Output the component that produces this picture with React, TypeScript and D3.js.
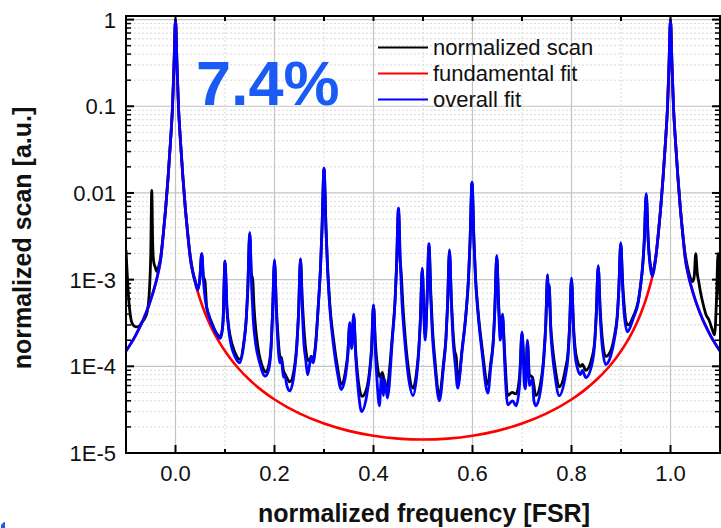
import React from "react";
import * as d3 from "d3";

// ---------- data ----------
type P = [number, number];

const xTickValues = [0.0, 0.2, 0.4, 0.6, 0.8, 1.0];
const xTickLabels = ["0.0", "0.2", "0.4", "0.6", "0.8", "1.0"];
const xMinorValues = [-0.1, 0.1, 0.3, 0.5, 0.7, 0.9, 1.1];
const yTickValues = [1e-5, 1e-4, 1e-3, 1e-2, 1e-1, 1];
const yTickLabels = ["1E-5", "1E-4", "1E-3", "0.01", "0.1", "1"];

const legendLabels = ["normalized scan", "fundamental fit", "overall fit"];
const seriesColors = ["#000000", "#ff0000", "#0000ff"];
const annotation = "7.4%";

// normalized scan (black)
const scanData: P[] = [
  [-0.1, 2.2e-3], [-0.098, 1.3e-3], [-0.095, 6.5e-4], [-0.091, 3.8e-4], [-0.086, 3.0e-4],
  [-0.08, 2.85e-4], [-0.074, 2.9e-4], [-0.068, 3.2e-4], [-0.062, 3.6e-4], [-0.057, 4.3e-4],
  [-0.053, 7.0e-4], [-0.05, 2.0e-3], [-0.048, 1.07e-2], [-0.046, 2.5e-3], [-0.044, 1.6e-3],
  [-0.041, 1.4e-3], [-0.038, 1.25e-3], [-0.035, 1.35e-3], [-0.03, 1.8e-3], [-0.025, 3.2e-3],
  [-0.02, 6.5e-3], [-0.015, 0.015], [-0.01, 0.04], [-0.006, 0.1], [-0.003, 0.3], [0, 1],
  [0.003, 0.3], [0.006, 0.1], [0.01, 0.04], [0.015, 0.015], [0.02, 6.5e-3], [0.025, 3.3e-3],
  [0.03, 1.85e-3], [0.035, 1.25e-3], [0.04, 9.6e-4], [0.045, 7.8e-4], [0.049, 1.0e-3],
  [0.053, 2.0e-3], [0.056, 1.1e-3], [0.0595, 9.6e-4], [0.063, 4.8e-4], [0.068, 3.8e-4],
  [0.073, 3.2e-4], [0.083, 2.4e-4], [0.09, 2.2e-4], [0.093, 2.4e-4], [0.096, 3.3e-4],
  [0.1, 1.6e-3], [0.1035, 4.9e-4], [0.107, 3.0e-4], [0.11, 2.3e-4], [0.12, 1.45e-4],
  [0.13, 1.2e-4], [0.138, 1.9e-4], [0.143, 3.6e-4], [0.146, 7.8e-4], [0.15, 3.4e-3],
  [0.153, 1.2e-3], [0.156, 1.0e-3], [0.1586, 4.9e-4], [0.163, 2.4e-4], [0.167, 1.6e-4],
  [0.177, 9.5e-5], [0.182, 8.6e-5], [0.188, 1.0e-4], [0.193, 1.7e-4], [0.196, 4.0e-4],
  [0.2, 1.6e-3], [0.204, 4.5e-4], [0.207, 2.3e-4], [0.211, 1.3e-4], [0.214, 1.25e-4],
  [0.218, 9.0e-5], [0.222, 8.0e-5], [0.226, 7.2e-5], [0.231, 6.6e-5], [0.24, 9.5e-5],
  [0.245, 1.8e-4], [0.2485, 4.0e-4], [0.2525, 1.7e-3], [0.256, 6.0e-4], [0.259, 3.0e-4],
  [0.263, 1.6e-4], [0.267, 1.2e-4], [0.271, 1.15e-4], [0.274, 1.3e-4], [0.278, 1.2e-4],
  [0.283, 1.8e-4], [0.288, 4.6e-4], [0.293, 1.4e-3], [0.296, 3.9e-3], [0.3, 0.019],
  [0.304, 4.0e-3], [0.307, 1.5e-3], [0.312, 5.0e-4], [0.32, 1.9e-4], [0.327, 1.0e-4],
  [0.335, 6.2e-5], [0.343, 8.5e-5], [0.348, 1.4e-4], [0.352, 3.0e-4], [0.356, 1.8e-4],
  [0.36, 3.8e-4], [0.364, 1.5e-4], [0.369, 7.0e-5], [0.377, 4.5e-5], [0.386, 5.5e-5],
  [0.393, 1.0e-4], [0.396, 1.6e-4], [0.4, 5.0e-4], [0.404, 1.8e-4], [0.408, 1.0e-4],
  [0.413, 7.5e-5], [0.418, 8.5e-5], [0.422, 6.5e-5], [0.426, 5.7e-5], [0.4385, 2.4e-4],
  [0.4435, 5.7e-4], [0.4465, 1.4e-3], [0.4505, 6.5e-3], [0.4535, 1.8e-3], [0.456, 1.2e-3],
  [0.459, 5.5e-4], [0.4625, 2.8e-4], [0.47, 1.0e-4], [0.48, 5.6e-5], [0.487, 8.5e-5],
  [0.4915, 1.6e-4], [0.4945, 3.3e-4], [0.4985, 1.3e-3], [0.502, 4.0e-4], [0.5045, 2.3e-4],
  [0.508, 5.5e-4], [0.512, 2.5e-3], [0.516, 6.5e-4], [0.519, 2.8e-4], [0.524, 1.2e-4],
  [0.533, 4.5e-5], [0.5415, 1.1e-4], [0.5465, 2.2e-4], [0.5495, 5.0e-4], [0.5535, 2.1e-3],
  [0.5575, 5.5e-4], [0.5605, 2.6e-4], [0.564, 1.5e-4], [0.567, 1.3e-4], [0.571, 6.5e-5],
  [0.579, 1.6e-4], [0.587, 4.2e-4], [0.592, 1.05e-3], [0.595, 2.7e-3], [0.599, 1.3e-2],
  [0.603, 2.8e-3], [0.606, 1.1e-3], [0.611, 4.5e-4], [0.619, 1.7e-4], [0.631, 6.2e-5],
  [0.637, 1.1e-4], [0.642, 2.0e-4], [0.645, 4.4e-4], [0.649, 1.85e-3], [0.653, 5.0e-4],
  [0.656, 3.0e-4], [0.658, 3.7e-4], [0.661, 3.5e-4], [0.665, 1.4e-4], [0.671, 4.6e-5],
  [0.68, 5.0e-5], [0.688, 4.8e-5], [0.695, 7.5e-5], [0.7, 2.4e-4], [0.705, 9.0e-5],
  [0.708, 8.0e-5], [0.711, 1.9e-4], [0.715, 8.0e-5], [0.721, 7.5e-5], [0.728, 4.6e-5],
  [0.7395, 7.5e-5], [0.744, 1.3e-4], [0.748, 3.1e-4], [0.7516, 1.1e-3], [0.753, 5.5e-4],
  [0.7548, 8.5e-4], [0.758, 3.0e-4], [0.762, 1.6e-4], [0.767, 9.5e-5], [0.775, 5.8e-5],
  [0.788, 9.5e-5], [0.793, 1.45e-4], [0.796, 2.8e-4], [0.8, 1.0e-3], [0.804, 3.0e-4],
  [0.807, 1.7e-4], [0.812, 1.15e-4], [0.818, 1.0e-4], [0.822, 1.05e-4], [0.829, 9.0e-5],
  [0.842, 1.3e-4], [0.847, 2.0e-4], [0.85, 4.0e-4], [0.854, 1.4e-3], [0.858, 4.5e-4],
  [0.861, 2.5e-4], [0.869, 1.3e-4], [0.879, 1.5e-4], [0.887, 2.3e-4], [0.8925, 3.9e-4],
  [0.8955, 7.6e-4], [0.8995, 2.6e-3], [0.9035, 9.0e-4], [0.9065, 5.0e-4], [0.91, 3.3e-4],
  [0.915, 3.0e-4], [0.925, 3.8e-4], [0.935, 5.7e-4], [0.939, 8.2e-4], [0.944, 1.5e-3],
  [0.947, 2.8e-3], [0.951, 9.5e-3], [0.955, 2.8e-3], [0.958, 1.7e-3], [0.963, 1.25e-3],
  [0.97, 1.8e-3], [0.975, 3.2e-3], [0.98, 6.5e-3], [0.985, 0.015], [0.99, 0.04],
  [0.994, 0.1], [0.997, 0.3], [1.0, 1], [1.003, 0.3], [1.006, 0.1], [1.01, 0.04],
  [1.015, 0.015], [1.02, 6.5e-3], [1.025, 3.3e-3], [1.03, 1.9e-3], [1.035, 1.35e-3],
  [1.04, 1.05e-3], [1.045, 9.5e-4], [1.048, 1.1e-3], [1.051, 2.0e-3], [1.054, 1.2e-3],
  [1.057, 9.5e-4], [1.06, 7.5e-4], [1.066, 5.2e-4], [1.072, 3.9e-4], [1.078, 3.4e-4],
  [1.084, 2.7e-4], [1.089, 2.3e-4], [1.093, 6.0e-4], [1.096, 2.0e-3], [1.099, 8.0e-4],
  [1.1, 6.0e-4],
];

// fundamental fit (red)
const fundamentalData: P[] = [
  [-0.1, 1.497e-4], [-0.09, 1.837e-4], [-0.08, 2.312e-4], [-0.07, 3.004e-4], [-0.06, 4.07e-4],
  [-0.05, 5.84e-4], [-0.04, 9.1e-4], [-0.035, 1.2e-3], [-0.03, 1.7e-3], [-0.025, 3.2e-3],
  [-0.02, 6.5e-3], [-0.015, 0.015], [-0.01, 0.04], [-0.006, 0.1], [-0.003, 0.3], [0, 1],
  [0.003, 0.3], [0.006, 0.1], [0.01, 0.04], [0.015, 0.015], [0.02, 6.5e-3], [0.025, 3.2e-3],
  [0.03, 1.7e-3], [0.035, 1.2e-3], [0.04, 9.1e-4], [0.05, 5.84e-4], [0.06, 4.07e-4],
  [0.07, 3.0e-4], [0.08, 2.31e-4], [0.09, 1.84e-4], [0.1, 1.5e-4], [0.11, 1.246e-4],
  [0.125, 9.76e-5], [0.15, 6.94e-5], [0.175, 5.24e-5], [0.2, 4.14e-5], [0.25, 2.86e-5],
  [0.3, 2.185e-5], [0.35, 1.8e-5], [0.4, 1.581e-5], [0.45, 1.466e-5], [0.5, 1.43e-5],
  [0.55, 1.466e-5], [0.6, 1.581e-5], [0.65, 1.8e-5], [0.7, 2.185e-5], [0.75, 2.86e-5],
  [0.8, 4.14e-5], [0.825, 5.24e-5], [0.85, 6.94e-5], [0.875, 9.76e-5], [0.89, 1.246e-4],
  [0.9, 1.5e-4], [0.91, 1.84e-4], [0.92, 2.31e-4], [0.93, 3.0e-4], [0.94, 4.07e-4],
  [0.95, 5.84e-4], [0.96, 9.1e-4], [0.965, 1.2e-3], [0.97, 1.7e-3], [0.975, 3.2e-3],
  [0.98, 6.5e-3], [0.985, 0.015], [0.99, 0.04], [0.994, 0.1], [0.997, 0.3], [1.0, 1],
  [1.003, 0.3], [1.006, 0.1], [1.01, 0.04], [1.015, 0.015], [1.02, 6.5e-3], [1.025, 3.2e-3],
  [1.03, 1.7e-3], [1.035, 1.2e-3], [1.04, 9.1e-4], [1.05, 5.84e-4], [1.06, 4.07e-4],
  [1.07, 3.004e-4], [1.08, 2.312e-4], [1.09, 1.837e-4], [1.1, 1.497e-4],
];

// overall fit (blue)
const overallData: P[] = [
  [-0.1, 1.5e-4], [-0.09, 1.84e-4], [-0.08, 2.31e-4], [-0.07, 3.0e-4], [-0.06, 4.07e-4],
  [-0.05, 5.84e-4], [-0.04, 9.1e-4], [-0.035, 1.2e-3], [-0.03, 1.7e-3], [-0.025, 3.2e-3],
  [-0.02, 6.5e-3], [-0.015, 0.015], [-0.01, 0.04], [-0.006, 0.1], [-0.003, 0.3], [0, 1],
  [0.003, 0.3], [0.006, 0.1], [0.01, 0.04], [0.015, 0.015], [0.02, 6.5e-3], [0.025, 3.2e-3],
  [0.03, 1.75e-3], [0.035, 1.2e-3], [0.04, 9.3e-4], [0.045, 7.6e-4], [0.049, 1.0e-3],
  [0.053, 2.0e-3], [0.057, 9.0e-4], [0.06, 6.0e-4], [0.065, 4.3e-4], [0.073, 3.1e-4],
  [0.082, 2.4e-4], [0.09, 2.1e-4], [0.093, 2.3e-4], [0.096, 3.2e-4], [0.1, 1.65e-3],
  [0.104, 4.9e-4], [0.107, 2.8e-4], [0.112, 1.8e-4], [0.12, 1.3e-4], [0.13, 1.1e-4],
  [0.138, 1.8e-4], [0.143, 3.5e-4], [0.146, 7.8e-4], [0.15, 3.5e-3], [0.154, 7.8e-4],
  [0.157, 3.5e-4], [0.162, 1.8e-4], [0.17, 1.1e-4], [0.181, 7.7e-5], [0.188, 9.0e-5],
  [0.193, 1.6e-4], [0.196, 4.0e-4], [0.2, 1.7e-3], [0.204, 4.0e-4], [0.207, 1.8e-4],
  [0.211, 1.1e-4], [0.214, 1.2e-4], [0.218, 7.5e-5], [0.221, 7.8e-5], [0.225, 6.0e-5],
  [0.231, 5.2e-5], [0.2405, 9.0e-5], [0.2455, 1.8e-4], [0.2485, 4.0e-4], [0.2525, 1.75e-3],
  [0.2565, 4.0e-4], [0.2595, 1.8e-4], [0.263, 1.2e-4], [0.267, 8.0e-5], [0.271, 1.05e-4],
  [0.274, 1.3e-4], [0.278, 1.1e-4], [0.283, 1.7e-4], [0.288, 4.5e-4], [0.293, 1.4e-3],
  [0.296, 3.9e-3], [0.3, 0.0193], [0.304, 3.9e-3], [0.307, 1.4e-3], [0.312, 4.5e-4],
  [0.32, 1.6e-4], [0.327, 8.5e-5], [0.335, 5.4e-5], [0.343, 7.5e-5], [0.348, 1.3e-4],
  [0.352, 3.2e-4], [0.356, 1.6e-4], [0.36, 4.0e-4], [0.364, 1.3e-4], [0.369, 5.5e-5],
  [0.376, 3.0e-5], [0.386, 4.5e-5], [0.393, 9.0e-5], [0.396, 1.5e-4], [0.4, 5.1e-4],
  [0.404, 1.4e-4], [0.407, 7.0e-5], [0.412, 3.5e-5], [0.416, 7.7e-5], [0.42, 4.6e-5],
  [0.423, 7.0e-5], [0.428, 4.3e-5], [0.4385, 2.2e-4], [0.4435, 5.5e-4], [0.4465, 1.4e-3],
  [0.4505, 6.7e-3], [0.4545, 1.4e-3], [0.4575, 5.5e-4], [0.4625, 2.2e-4], [0.47, 8.0e-5],
  [0.48, 4.6e-5], [0.487, 7.5e-5], [0.4915, 1.5e-4], [0.4945, 3.2e-4], [0.4985, 1.36e-3],
  [0.502, 3.5e-4], [0.5045, 2.0e-4], [0.508, 5.5e-4], [0.512, 2.6e-3], [0.516, 5.5e-4],
  [0.519, 2.3e-4], [0.524, 1.0e-4], [0.533, 4.0e-5], [0.5415, 1.0e-4], [0.5465, 2.1e-4],
  [0.5495, 4.9e-4], [0.5535, 2.2e-3], [0.5575, 4.9e-4], [0.5605, 2.1e-4], [0.5655, 1.0e-4],
  [0.57, 5.6e-5], [0.579, 1.5e-4], [0.587, 4.1e-4], [0.592, 1.05e-3], [0.595, 2.7e-3],
  [0.599, 1.33e-2], [0.603, 2.7e-3], [0.606, 1.05e-3], [0.611, 4.1e-4], [0.619, 1.5e-4],
  [0.631, 4.9e-5], [0.637, 1.0e-4], [0.642, 1.9e-4], [0.645, 4.3e-4], [0.649, 1.9e-3],
  [0.653, 4.3e-4], [0.656, 2.0e-4], [0.661, 4.0e-4], [0.665, 1.1e-4], [0.671, 3.6e-5],
  [0.681, 4.0e-5], [0.688, 3.5e-5], [0.695, 6.0e-5], [0.7, 2.5e-4], [0.705, 6.0e-5],
  [0.707, 5.5e-5], [0.711, 2.0e-4], [0.715, 6.0e-5], [0.721, 7.0e-5], [0.724, 4.0e-5],
  [0.728, 3.5e-5], [0.7395, 6.4e-5], [0.744, 1.2e-4], [0.748, 3.0e-4], [0.7516, 1.14e-3],
  [0.753, 5.0e-4], [0.7548, 8.8e-4], [0.758, 2.6e-4], [0.762, 1.3e-4], [0.767, 7.5e-5],
  [0.775, 4.6e-5], [0.788, 8.0e-5], [0.793, 1.3e-4], [0.796, 2.7e-4], [0.8, 1.05e-3],
  [0.804, 2.7e-4], [0.807, 1.4e-4], [0.812, 9.5e-5], [0.818, 8.0e-5], [0.822, 9.0e-5],
  [0.829, 7.4e-5], [0.842, 1.1e-4], [0.847, 1.9e-4], [0.85, 3.9e-4], [0.854, 1.45e-3],
  [0.858, 3.9e-4], [0.861, 2.0e-4], [0.869, 1.05e-4], [0.879, 1.3e-4], [0.887, 2.1e-4],
  [0.8925, 3.7e-4], [0.8955, 7.5e-4], [0.8995, 2.65e-3], [0.9035, 7.5e-4], [0.9065, 4.0e-4],
  [0.913, 2.5e-4], [0.925, 3.6e-4], [0.935, 5.5e-4], [0.939, 8.0e-4], [0.944, 1.5e-3],
  [0.947, 2.8e-3], [0.951, 9.8e-3], [0.955, 2.8e-3], [0.958, 1.6e-3], [0.963, 1.1e-3],
  [0.97, 1.75e-3], [0.975, 3.2e-3], [0.98, 6.5e-3], [0.985, 0.015], [0.99, 0.04],
  [0.994, 0.1], [0.997, 0.3], [1.0, 1], [1.003, 0.3], [1.006, 0.1], [1.01, 0.04],
  [1.015, 0.015], [1.02, 6.5e-3], [1.025, 3.2e-3], [1.03, 1.7e-3], [1.035, 1.2e-3],
  [1.04, 9.1e-4], [1.05, 5.84e-4], [1.06, 4.07e-4], [1.07, 3.0e-4], [1.08, 2.31e-4],
  [1.09, 1.84e-4], [1.1, 1.5e-4],
];

// ---------- layout ----------
const W = 721;
const H = 528;
const left = 126;
const right = 720;
const top = 16;
const bottom = 453;
const FONT = "'Liberation Sans', Arial, Helvetica, sans-serif";
const seriesWidths = [2.8, 2.6, 2.8];

export default function App() {
  const x = d3.scaleLinear().domain([-0.1, 1.1]).range([left, right]);
  const y = d3.scaleLog().domain([1e-5, 1.1]).range([bottom, top]);

  const line = d3
    .line<P>()
    .x((d) => x(d[0]))
    .y((d) => y(d[1]))
    .curve(d3.curveMonotoneX);

  // minor log values (2..9 per decade)
  const minorY: number[] = [];
  for (let e = -5; e < 0; e++) {
    for (let m = 2; m <= 9; m++) minorY.push(m * Math.pow(10, e));
  }
  const allXTicks = d3.range(-1, 12).map((i) => i / 10);

  const series = [scanData, fundamentalData, overallData];

  return (
    <svg
      width={W}
      height={H}
      style={{ position: "absolute", left: 0, top: 0, background: "#fff" }}
      fontFamily={FONT}
    >
      <defs>
        <clipPath id="plotclip">
          <rect x={left} y={top} width={right - left} height={bottom - top} />
        </clipPath>
      </defs>
      <rect x={0} y={0} width={W} height={H} fill="#fff" />

      {/* minor grid */}
      {minorY.map((v, i) => (
        <line
          key={"mg" + i}
          x1={left}
          x2={right}
          y1={y(v)}
          y2={y(v)}
          stroke="#dadada"
          strokeWidth={1}
          strokeDasharray="2,2"
        />
      ))}
      {xMinorValues.map((v, i) => (
        <line
          key={"mvx" + i}
          x1={x(v)}
          x2={x(v)}
          y1={top}
          y2={bottom}
          stroke="#dadada"
          strokeWidth={1}
          strokeDasharray="2,2"
        />
      ))}
      {/* major grid */}
      {yTickValues.map((v, i) => (
        <line
          key={"Mg" + i}
          x1={left}
          x2={right}
          y1={y(v)}
          y2={y(v)}
          stroke="#c4c4c4"
          strokeWidth={1.2}
        />
      ))}
      {xTickValues.map((v, i) => (
        <line
          key={"Mgx" + i}
          x1={x(v)}
          x2={x(v)}
          y1={top}
          y2={bottom}
          stroke="#c4c4c4"
          strokeWidth={1.2}
        />
      ))}

      {/* data lines */}
      <g clipPath="url(#plotclip)">
        {series.map((s, i) => (
          <path
            key={"s" + i}
            d={line(s) || ""}
            fill="none"
            stroke={seriesColors[i]}
            strokeWidth={seriesWidths[i]}
            strokeLinejoin="round"
          />
        ))}
      </g>

      {/* axes frame */}
      <rect
        x={left}
        y={top}
        width={right - left}
        height={bottom - top}
        fill="none"
        stroke="#000"
        strokeWidth={2}
      />

      {/* x ticks (bottom, top) */}
      {allXTicks.map((v, i) => {
        const major = Math.round(v * 10) % 2 === 0;
        return (
          <g key={"xt" + i}>
            <line x1={x(v)} x2={x(v)} y1={bottom} y2={bottom - (major ? 8 : 4)} stroke="#000" strokeWidth={2} />
            <line x1={x(v)} x2={x(v)} y1={top} y2={top + 5} stroke="#000" strokeWidth={2} />
          </g>
        );
      })}
      {/* y ticks (left, right) */}
      {yTickValues.map((v, i) => (
        <g key={"yt" + i}>
          <line x1={left} x2={left + 8} y1={y(v)} y2={y(v)} stroke="#000" strokeWidth={2} />
          <line x1={right} x2={right - 8} y1={y(v)} y2={y(v)} stroke="#000" strokeWidth={2} />
        </g>
      ))}
      {minorY.map((v, i) => (
        <g key={"ymt" + i}>
          <line x1={left} x2={left + 5} y1={y(v)} y2={y(v)} stroke="#000" strokeWidth={1.5} />
          <line x1={right} x2={right - 5} y1={y(v)} y2={y(v)} stroke="#000" strokeWidth={1.5} />
        </g>
      ))}

      {/* tick labels */}
      {xTickValues.map((v, i) => (
        <text key={"xl" + i} x={x(v)} y={481} textAnchor="middle" fontSize={22} fill="#111">
          {xTickLabels[i]}
        </text>
      ))}
      {yTickValues.map((v, i) => (
        <text
          key={"yl" + i}
          x={116}
          y={y(v)}
          dy="0.36em"
          textAnchor="end"
          fontSize={22}
          fill="#111"
        >
          {yTickLabels[i]}
        </text>
      ))}

      {/* axis titles */}
      <text x={424} y={522} textAnchor="middle" fontSize={25} fontWeight="bold" fill="#111">
        normalized frequency [FSR]
      </text>
      <text
        transform={`translate(31,238) rotate(-90)`}
        textAnchor="middle"
        fontSize={25}
        fontWeight="bold"
        fill="#111"
      >
        normalized scan [a.u.]
      </text>

      {/* annotation */}
      <text x={196} y={105} fontSize={63} fontWeight="bold" fill="#1a5af5">
        {annotation}
      </text>

      {/* legend */}
      {legendLabels.map((lab, i) => (
        <g key={"lg" + i}>
          <line
            x1={378}
            x2={428}
            y1={47.5 + i * 26}
            y2={47.5 + i * 26}
            stroke={seriesColors[i]}
            strokeWidth={2}
          />
          <text x={433} y={54.5 + i * 26} fontSize={22} fill="#111">
            {lab}
          </text>
        </g>
      ))}

      {/* small blue mark at the lower left corner */}
      <path d="M1,528 L1,525 L4,522 L5,522 L5,528 Z" fill="#1a5af5" />
    </svg>
  );
}
